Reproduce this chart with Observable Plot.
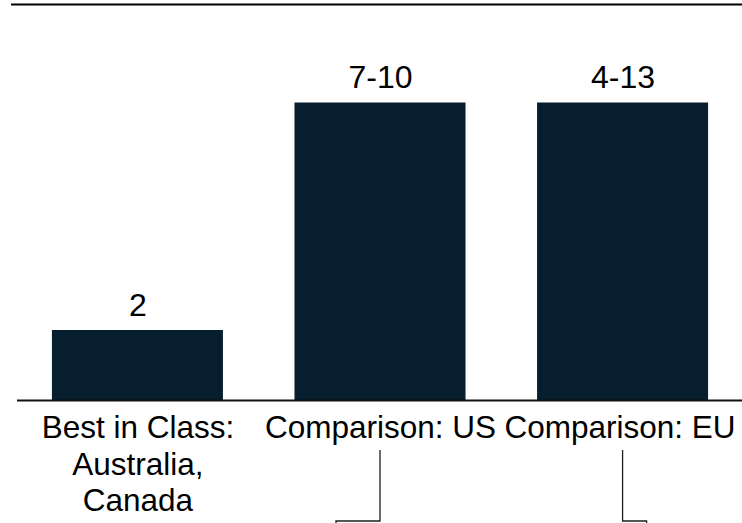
<!DOCTYPE html>
<html>
<head>
<meta charset="utf-8">
<script src="https://cdn.jsdelivr.net/npm/d3@7"></script>
<script src="https://cdn.jsdelivr.net/npm/@observablehq/plot@0.6"></script>
<style>
  html, body { margin: 0; padding: 0; background: #ffffff; }
  #chart svg { display: block; }
</style>
</head>
<body>
<div id="chart"></div>
<script>
// Groups compared, with the low/high end of each reported range
const categories = ["Best in Class:\nAustralia,\nCanada", "Comparison: US", "Comparison: EU"];
const rangeLow = [2, 7, 4];
const rangeHigh = [2, 10, 13];
const valueLabels = ["2", "7-10", "4-13"];

// Each bar stands at the middle of its range
const rows = categories.map((category, i) => ({
  category,
  low: rangeLow[i],
  high: rangeHigh[i],
  mid: (rangeLow[i] + rangeHigh[i]) / 2,
  label: valueLabels[i]
}));

const font = "'Liberation Sans', Arial, Helvetica, sans-serif";
const categoryText = { x: "category", y: 0, text: "category", lineAnchor: "top", dy: 11, fontSize: 31.5, lineHeight: 1.17, fill: "#000000" };

const plot = Plot.plot({
  width: 742,
  height: 523,
  marginLeft: 17,
  marginRight: 0,
  marginTop: 4,
  marginBottom: 0,
  style: { fontFamily: font, background: "#ffffff", color: "#000000", overflow: "visible" },
  x: { domain: categories, range: [0, 760], paddingInner: 0.295, paddingOuter: 0.214, round: false, axis: null },
  y: { domain: [0, 10], range: [400, 50], axis: null },
  marks: [
    Plot.barY(rows, { x: "category", y: "mid", fill: "#071e2f" }),
    Plot.ruleY([0], { stroke: "#111111", strokeWidth: 2 }),
    Plot.text(rows, { x: "category", y: "mid", text: "label", lineAnchor: "bottom", dy: -15, fontSize: 32, fill: "#000000" }),
    // category names; the last one is nudged in so it stays inside the frame
    Plot.text(rows.slice(0, 2), categoryText),
    Plot.text(rows.slice(2), { ...categoryText, dx: -3 })
  ]
});

// Header rule and leader lines, placed through the plot's own scales
const xs = plot.scale("x");
const ys = plot.scale("y");
const cx = (c) => xs.apply(c) + xs.bandwidth / 2;
const base = ys.apply(0);
const svg = d3.select(plot);

svg.append("line")
  .attr("x1", 11).attr("x2", 742)
  .attr("y1", 4.5).attr("y2", 4.5)
  .attr("stroke", "#000000").attr("stroke-width", 2);

const leaders = [
  { category: categories[1], side: -44 },
  { category: categories[2], side: 24 }
];
svg.append("g")
  .attr("fill", "none")
  .attr("stroke", "#1e1e1e")
  .attr("stroke-width", 1.3)
  .selectAll("path")
  .data(leaders)
  .join("path")
  .attr("d", (d) => {
    const x = cx(d.category);
    return `M${x},${base + 50}V${base + 121}H${x + d.side}V${base + 140}`;
  });

document.getElementById("chart").append(plot);
</script>
</body>
</html>
